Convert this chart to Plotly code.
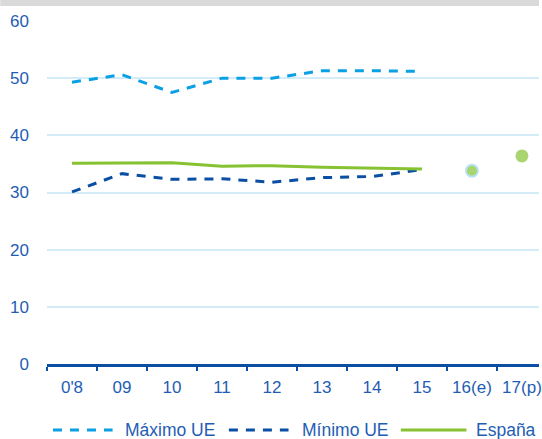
import plotly.graph_objects as go

# Categories (years) and series values
years = ["0'8", "09", "10", "11", "12", "13", "14", "15", "16(e)", "17(p)"]
hist_years = years[:8]
proj_years = years[8:]
maximo_ue = [49.3, 50.6, 47.5, 50.0, 50.0, 51.3, 51.3, 51.2]
minimo_ue = [30.1, 33.3, 32.3, 32.4, 31.8, 32.6, 32.8, 34.0]
espana = [35.1, 35.1, 35.2, 34.6, 34.7, 34.4, 34.2, 34.1]
espana_proj = [33.8, 36.4]

y_ticks = [0, 10, 20, 30, 40, 50, 60]

LIGHT_BLUE = "#0aa0e4"
DARK_BLUE = "#0b4fa5"
GREEN = "#86c232"
TEXT_BLUE = "#1f5db3"
GRID = "#d3ecf8"
FONT = "Liberation Sans, Arial, sans-serif"
FS = 17
LEG_FS = 17.5

W, H = 542, 439
ML, MR, MT, MB = 47, 0, 21, 75
PW = W - ML - MR
PH = H - MT - MB
CAT_W = 50.3  # pixel width of one category slot

fig = go.Figure()

fig.add_trace(go.Scatter(
    x=hist_years, y=maximo_ue, mode="lines", name="Máximo UE",
    line=dict(color=LIGHT_BLUE, width=3, dash="9px,8px")))
fig.add_trace(go.Scatter(
    x=hist_years, y=minimo_ue, mode="lines", name="Mínimo UE",
    line=dict(color=DARK_BLUE, width=3, dash="9px,8px")))
fig.add_trace(go.Scatter(
    x=hist_years, y=espana, mode="lines", name="España",
    line=dict(color=GREEN, width=3)))
fig.add_trace(go.Scatter(
    x=proj_years, y=espana_proj, mode="markers", name="España (proyección)",
    marker=dict(color=GREEN, size=[12, 13],
                line=dict(color=["#9ad6f5", GREEN], width=[2, 0]))))

# Manual legend below the axis
legend_items = [
    ("Máximo UE", LIGHT_BLUE, "dash", 53, 113, 123),
    ("Mínimo UE", DARK_BLUE, "dash", 230, 290, 302),
    ("España", GREEN, "solid", 403, 469, 477),
]
shapes = []
annotations = []
line_y = -(430 - (MT + PH)) / PH
text_y = -(429.5 - (MT + PH)) / PH
for label, color, dash, x0, x1, tx in legend_items:
    shapes.append(dict(
        type="line", xref="paper", yref="paper",
        x0=(x0 - ML) / PW, x1=(x1 - ML) / PW, y0=line_y, y1=line_y,
        line=dict(color=color, width=3, dash="9px,8px" if dash == "dash" else "solid")))
    annotations.append(dict(
        text=label, xref="paper", yref="paper", x=(tx - ML) / PW, y=text_y,
        xanchor="left", yanchor="middle", showarrow=False,
        font=dict(family=FONT, size=LEG_FS, color=TEXT_BLUE)))

# Grey strip along the top edge
shapes.append(dict(
    type="rect", xref="paper", yref="paper", layer="below",
    x0=-ML / PW, x1=1, y0=1 + (MT - 6) / PH, y1=1 + MT / PH + 0.01,
    fillcolor="#d9d9d9", line=dict(width=0)))

fig.update_layout(
    width=W, height=H,
    margin=dict(l=ML, r=MR, t=MT, b=MB, pad=0),
    paper_bgcolor="white", plot_bgcolor="white",
    font=dict(family=FONT, size=FS, color=TEXT_BLUE),
    showlegend=False,
    shapes=shapes, annotations=annotations,
    xaxis=dict(
        type="category", categoryorder="array", categoryarray=years,
        range=[-0.5, -0.5 + PW / CAT_W],
        tickson="boundaries", ticks="outside", ticklen=4, tickwidth=2,
        tickcolor=DARK_BLUE, showline=True, linecolor=DARK_BLUE, linewidth=3,
        showgrid=False, ticklabelstandoff=6,
        tickfont=dict(family=FONT, size=FS, color=TEXT_BLUE)),
    yaxis=dict(
        range=[0, 60], tickvals=y_ticks, showgrid=True, gridcolor=GRID,
        gridwidth=1.5, zeroline=False, showline=False, ticks="",
        ticklabelstandoff=17,
        tickfont=dict(family=FONT, size=FS, color=TEXT_BLUE)),
)

fig.write_html("out.html")
